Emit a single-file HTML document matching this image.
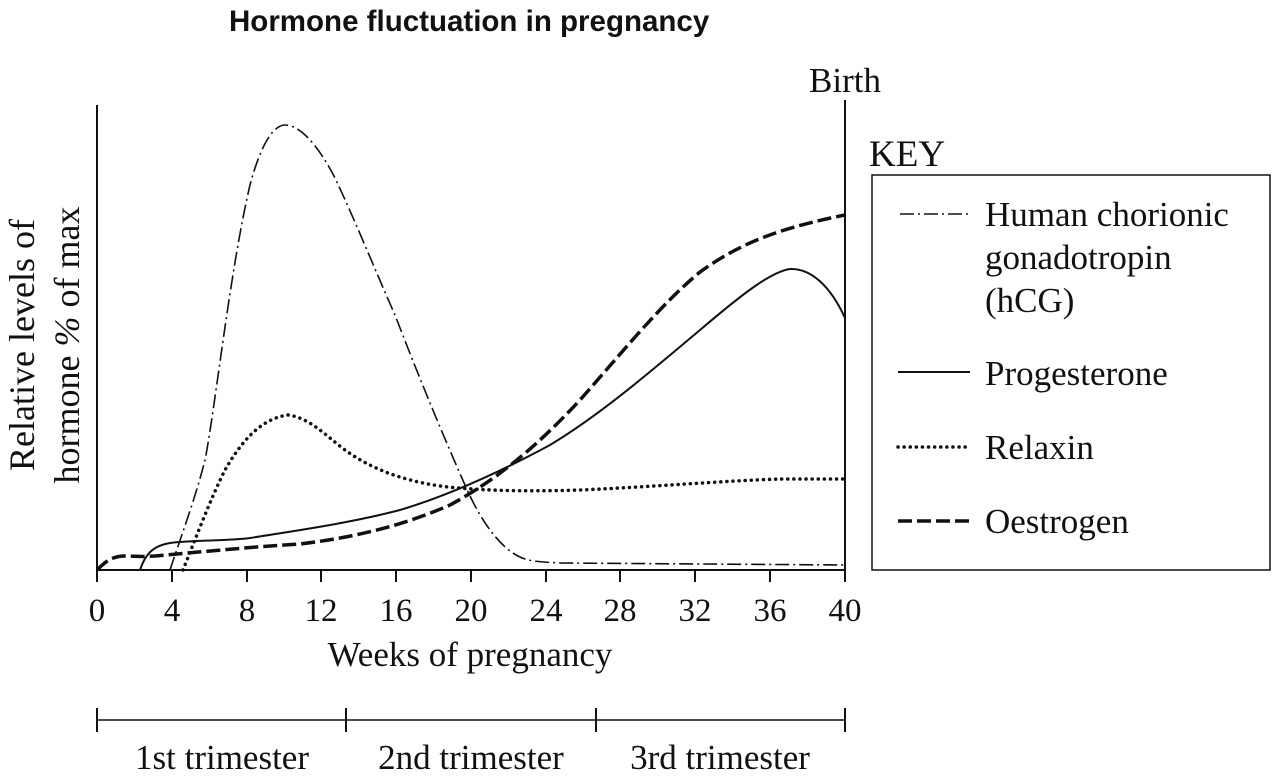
<!DOCTYPE html>
<html><head><style>body{margin:0;background:#fff}</style></head><body>
<svg width="1282" height="780" xmlns="http://www.w3.org/2000/svg" style="display:block">
<rect width="1282" height="780" fill="#fff"/>
<text x="229" y="31" font-family="Liberation Sans, sans-serif" font-weight="bold" font-size="29.5" fill="#111">Hormone fluctuation in pregnancy</text>
<g font-family="Liberation Serif, serif" fill="#111" font-size="35">
<text x="845" y="92" text-anchor="middle">Birth</text>
<text x="869" y="166" font-size="37">KEY</text>
<text transform="translate(34,345) rotate(-90)" text-anchor="middle" font-size="36">Relative levels of</text>
<text transform="translate(79,345) rotate(-90)" text-anchor="middle" font-size="36">hormone <tspan font-style="italic">%</tspan> of max</text>
<g text-anchor="middle">
<g font-size="33">
<text x="97" y="621">0</text><text x="172" y="621">4</text><text x="247" y="621">8</text><text x="321" y="621">12</text><text x="396" y="621">16</text><text x="471" y="621">20</text><text x="546" y="621">24</text><text x="620" y="621">28</text><text x="695" y="621">32</text><text x="770" y="621">36</text><text x="845" y="621">40</text>
</g>
<text x="470" y="666">Weeks of pregnancy</text>
<text x="222" y="769">1st trimester</text><text x="471" y="769">2nd trimester</text><text x="720" y="769">3rd trimester</text>
</g>
<text x="985" y="226">Human chorionic</text>
<text x="985" y="269">gonadotropin</text>
<text x="985" y="312">(hCG)</text>
<text x="985" y="385">Progesterone</text>
<text x="985" y="459">Relaxin</text>
<text x="985" y="533">Oestrogen</text>
</g>
<g stroke="#111" fill="none" stroke-width="2">
<line x1="97" y1="105" x2="97" y2="582"/>
<line x1="845" y1="100" x2="845" y2="582"/>
<line x1="97" y1="570" x2="845" y2="570"/>
<path d="M172 570V582M247 570V582M321 570V582M396 570V582M471 570V582M546 570V582M620 570V582M695 570V582M770 570V582"/>
<line x1="97" y1="720" x2="845" y2="720" stroke-width="1.5"/>
<path d="M97 708V732M346 708V732M596 708V732M845 708V732"/>
<rect x="872" y="175" width="398" height="395" stroke-width="1.5"/>
<path stroke-width="1.6" stroke-dasharray="14,4,2,4" d="M170 570 C178 545,195 500,205 460 C215 410,230 270,250 185 C262 140,275 125,285 125 C300 125,318 145,335 178 C355 220,375 270,395 315 C420 380,445 440,465 485 C480 520,500 548,520 557 C530 562,545 562,560 563 L845 565"/>
<line x1="900" y1="214" x2="970" y2="214" stroke-width="1.6" stroke-dasharray="14,4,2,4"/>
<path stroke-width="3.5" stroke-dasharray="0.1,6" stroke-linecap="round" d="M183 570 C195 540,210 500,225 470 C245 435,265 418,288 415 C310 418,325 435,345 450 C370 468,400 480,440 486 C470 490,520 492,580 490 C650 487,720 481,780 479 L845 479"/>
<line x1="898" y1="447" x2="970" y2="447" stroke-width="3.5" stroke-dasharray="0.1,6" stroke-linecap="round"/>
<path stroke-width="2" d="M140 570 C145 555,152 546,170 543 C190 540,230 541,250 538 C300 530,350 523,400 510 C450 495,500 472,550 445 C600 415,650 372,700 330 C740 296,770 272,790 269 C810 268,830 285,845 318"/>
<line x1="898" y1="372" x2="970" y2="372" stroke-width="2"/>
<path stroke-width="3.5" stroke-dasharray="14,5" d="M97 570 C105 562,112 556,125 556 C135 556,140 557,155 556 C200 552,250 547,300 544 C350 538,400 527,450 505 C500 478,540 443,580 400 C620 355,660 305,700 272 C740 243,780 228,845 215"/>
<line x1="898" y1="521" x2="970" y2="521" stroke-width="3.5" stroke-dasharray="14,5"/>
</g>
</svg>
</body></html>
